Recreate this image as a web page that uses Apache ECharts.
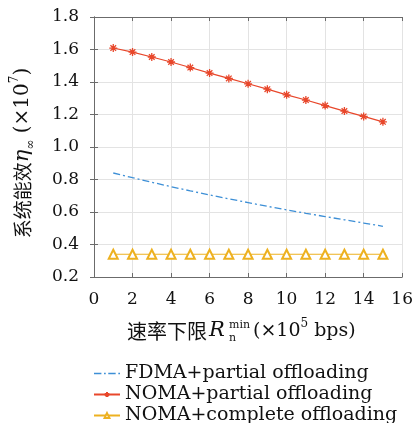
<!DOCTYPE html>
<html><head><meta charset="utf-8">
<script src="https://cdn.jsdelivr.net/npm/echarts@6/dist/echarts.min.js"></script>
<style>html,body{margin:0;background:#fff}#c{width:416px;height:423px}</style></head>
<body><div id="c"></div><script>
const rates=[1,2,3,4,5,6,7,8,9,10,11,12,13,14,15];
const fdmaPartial=[0.840,0.811,0.783,0.756,0.730,0.705,0.681,0.658,0.635,0.613,0.592,0.572,0.552,0.532,0.512];
const nomaPartial=[1.609,1.584,1.554,1.523,1.489,1.455,1.422,1.389,1.356,1.321,1.289,1.255,1.221,1.188,1.155];
const nomaComplete=[0.340,0.340,0.340,0.340,0.340,0.340,0.340,0.340,0.340,0.340,0.340,0.340,0.340,0.340,0.340];
const seriesNames=['FDMA+partial offloading','NOMA+partial offloading','NOMA+complete offloading'];
const xMin=0,xMax=16,xStep=2,yMin=0.2,yMax=1.8,yStep=0.2;

const SERIF='"DejaVu Serif", serif';
const CJK='"Noto Sans CJK SC", sans-serif';
const pair=a=>rates.map((x,i)=>[x,a[i]]);
const chart=echarts.init(document.getElementById('c'),null,{renderer:'canvas'});
const axisCol='#6b6b6b';
const star='path://M5,0L5,10M0,5L10,5M1.5,1.5L8.5,8.5M8.5,1.5L1.5,8.5';
const dashDotIcon='path://M0,0h7v1.3h-7zM9.5,0h1.6v1.3h-1.6zM13.5,0h7v1.3h-7zM23,0h1.6v1.3h-1.6z';
chart.setOption({
  animation:false,
  backgroundColor:'#fff',
  grid:{left:94,right:12,top:17,bottom:146},
  xAxis:[
    {type:'value',min:xMin,max:xMax,interval:xStep,
     axisLine:{lineStyle:{color:axisCol,width:1}},
     axisTick:{inside:true,length:4,lineStyle:{color:axisCol}},
     axisLabel:{margin:14,color:'#111',fontFamily:SERIF,fontSize:17},
     splitLine:{show:true,lineStyle:{color:'#e3e3e3',width:1}}},
    {type:'value',position:'top',min:xMin,max:xMax,interval:xStep,
     axisLine:{lineStyle:{color:axisCol,width:1}},
     axisTick:{inside:true,length:4,lineStyle:{color:axisCol}},
     axisLabel:{show:false},splitLine:{show:false}}
  ],
  yAxis:[
    {type:'value',min:yMin,max:yMax,interval:yStep,
     axisLine:{show:true,lineStyle:{color:axisCol,width:1}},
     axisTick:{show:true,inside:true,length:4,lineStyle:{color:axisCol}},
     axisLabel:{margin:15,color:'#111',fontFamily:SERIF,fontSize:17,formatter:v=>v.toFixed(1)},
     splitLine:{show:true,lineStyle:{color:'#e3e3e3',width:1}}},
    {type:'value',position:'right',min:yMin,max:yMax,interval:yStep,
     axisLine:{show:true,lineStyle:{color:axisCol,width:1}},
     axisTick:{show:true,inside:true,length:4,lineStyle:{color:axisCol}},
     axisLabel:{show:false},splitLine:{show:false}}
  ],
  legend:{
    orient:'vertical',left:88,top:359,height:80,itemWidth:26,itemHeight:6,itemGap:2,
    textStyle:{fontFamily:SERIF,fontSize:19,lineHeight:18,color:'#111'},
    data:[{name:seriesNames[0],icon:dashDotIcon},{name:seriesNames[1]},{name:seriesNames[2]}]
  },
  series:[
    {name:seriesNames[0],type:'line',data:pair(fdmaPartial),showSymbol:false,symbol:'none',
     lineStyle:{color:'#3d8fd6',width:1.3,type:[7,3,2,3]},itemStyle:{color:'#3d8fd6'}},
    {name:seriesNames[1],type:'line',data:pair(nomaPartial),symbol:star,symbolSize:8,
     lineStyle:{color:'#e8472b',width:1.2},
     itemStyle:{color:'#e8472b',borderColor:'#e8472b',borderWidth:1.3}},
    {name:seriesNames[2],type:'line',data:pair(nomaComplete),symbol:'emptyTriangle',symbolSize:9,
     lineStyle:{color:'#edb120',width:1.2},
     itemStyle:{color:'#edb120',borderColor:'#edb120',borderWidth:1.2}}
  ],
  graphic:[
    {type:'text',x:23,y:153,rotation:Math.PI/2,
     style:{
       text:'{c|系统能效}{e|η}{s|∞}{n| (×10}{p|7}{n|)}',
       align:'center',verticalAlign:'middle',
       rich:{
         c:{fontFamily:CJK,fontSize:19,fill:'#111',lineHeight:28},
         e:{fontFamily:SERIF,fontStyle:'italic',fontSize:21,fill:'#111',lineHeight:28},
         s:{fontFamily:SERIF,fontSize:12,fill:'#111',verticalAlign:'bottom',lineHeight:16},
         n:{fontFamily:SERIF,fontSize:20,fill:'#111',lineHeight:28},
         p:{fontFamily:SERIF,fontSize:12,fill:'#111',verticalAlign:'top',lineHeight:16}
       }}},
    {type:'text',x:127,y:331,style:{text:'速率下限',fontFamily:CJK,fontSize:20,fill:'#111',align:'left',verticalAlign:'middle'}},
    {type:'text',x:209,y:331,style:{text:'R',fontFamily:SERIF,fontStyle:'italic',fontSize:21,fill:'#111',align:'left',verticalAlign:'middle'}},
    {type:'text',x:229,y:325,style:{text:'min',fontFamily:SERIF,fontSize:11,fill:'#111',align:'left',verticalAlign:'middle'}},
    {type:'text',x:229,y:338,style:{text:'n',fontFamily:SERIF,fontSize:11,fill:'#111',align:'left',verticalAlign:'middle'}},
    {type:'text',x:253,y:331,
     style:{text:'{n|(×10}{p|5}{n| bps)}',align:'left',verticalAlign:'middle',
       rich:{n:{fontFamily:SERIF,fontSize:19,fill:'#111',lineHeight:26},
             p:{fontFamily:SERIF,fontSize:12,fill:'#111',verticalAlign:'top',lineHeight:14}}}}
  ]
});
</script></body></html>
